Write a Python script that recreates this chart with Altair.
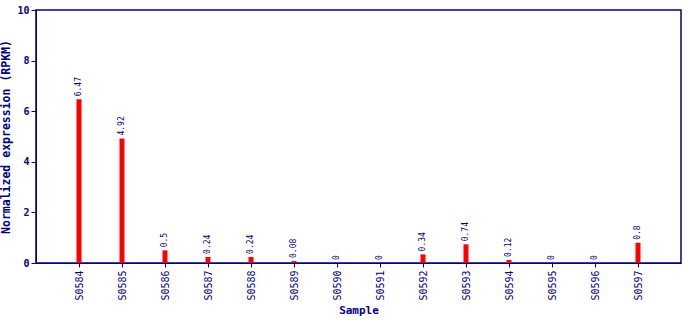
import altair as alt
import pandas as pd

samples = ["S0584", "S0585", "S0586", "S0587", "S0588", "S0589", "S0590",
           "S0591", "S0592", "S0593", "S0594", "S0595", "S0596", "S0597"]
values = [6.47, 4.92, 0.5, 0.24, 0.24, 0.08, 0, 0, 0.34, 0.74, 0.12, 0, 0, 0.8]
labels = ["6.47", "4.92", "0.5", "0.24", "0.24", "0.08", "0", "0", "0.34", "0.74", "0.12", "0", "0", "0.8"]

df = pd.DataFrame({"Sample": samples, "value": values, "label": labels})

navy = "#000080"
font = "DejaVu Sans Mono"

x = alt.X("Sample:N", sort=samples,
          scale=alt.Scale(type="point", padding=1),
          axis=alt.Axis(title="Sample", labelAngle=-90, labelFont=font, labelFontSize=10,
                        labelColor=navy, titleFont=font, titleFontSize=11, titleFontWeight="bold",
                        titleColor=navy, domainColor=navy, tickColor=navy, tickSize=4,
                        labelPadding=3, titlePadding=4))
y = alt.Y("value:Q", scale=alt.Scale(domain=[0, 10]),
          axis=alt.Axis(title="Normalized expression (RPKM)", values=[0, 2, 4, 6, 8, 10],
                        grid=False, labelFont=font, labelFontSize=10, labelFontWeight="bold",
                        labelColor=navy, titleFont=font, titleFontSize=11.5, titleFontWeight="bold",
                        titleColor=navy, domainColor=navy, tickColor=navy, tickSize=5,
                        labelPadding=2, titlePadding=5))

bars = alt.Chart(df).mark_bar(color="#FF0000", size=5).encode(x=x, y=y)
text = alt.Chart(df).mark_text(angle=270, align="left", baseline="middle", dx=3,
                               font=font, fontSize=8, color=navy).encode(
    x=x, y="value:Q", text="label:N")

chart = (bars + text).properties(
    width=645, height=253,
    padding={"left": 36, "top": 10, "right": 9, "bottom": 57},
    autosize=alt.AutoSizeParams(type="none"),
).configure_view(stroke=navy, strokeWidth=1.5)

chart.save("out.html", embed_options={"renderer": "svg", "actions": False})
